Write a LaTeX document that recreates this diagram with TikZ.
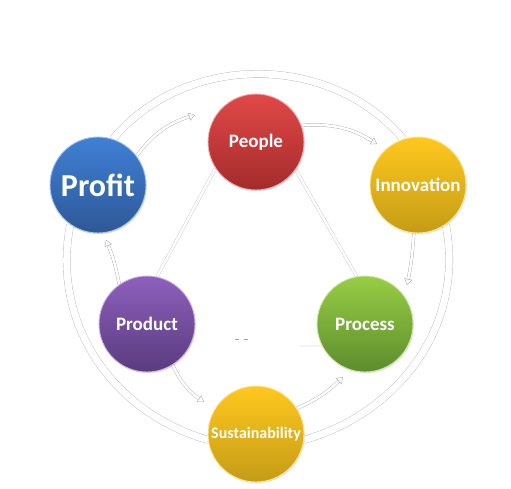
\documentclass[tikz,border=0pt]{standalone}
\usepackage{fontspec}
\setmainfont{Carlito}
\usetikzlibrary{arrows.meta,shadows,backgrounds}
\definecolor{redT}{HTML}{E24848}\definecolor{redB}{HTML}{A32B2B}
\definecolor{yelT}{HTML}{FFC81E}\definecolor{yelB}{HTML}{C49C16}
\definecolor{bluT}{HTML}{3F80D6}\definecolor{bluB}{HTML}{2E5896}
\definecolor{purT}{HTML}{8D60BD}\definecolor{purB}{HTML}{5A3B7E}
\definecolor{grnT}{HTML}{98CE44}\definecolor{grnB}{HTML}{5C8C2E}
\begin{document}
\begin{tikzpicture}[x=1pt,y=1pt,
  ball/.style 2 args={circle, minimum size=96pt, inner sep=0pt,
    top color=#1, bottom color=#2, draw=white!55!#1, line width=0.9pt,
    text=white, font=\bfseries\fontsize{19}{19}\selectfont,
    drop shadow={opacity=0.25, shadow xshift=0.8pt, shadow yshift=-1.2pt}},
  ring/.style={double=white, double distance=7pt, draw=black!30, line width=0.35pt},
  inner/.style={double=white, double distance=2.5pt, draw=black!28, line width=0.3pt},
  flow/.style={double=white, double distance=2.5pt, draw=black!35, line width=0.35pt,
    -{Triangle[open,length=6pt,width=8pt]}},
  faint/.style={draw=black!35, line width=0.4pt}
]
\useasboundingbox (0,0) rectangle (511,488);
% nodes
\node[ball={redT}{redB}] (people) at (256,346) {People};
\node[ball={yelT}{yelB}] (innovation) at (418,303) {Innovation};
\node[ball={bluT}{bluB}, font=\bfseries\fontsize{32}{32}\selectfont] (profit) at (98,303) {Profit};
\node[ball={purT}{purB}] (product) at (147,164) {Product};
\node[ball={grnT}{grnB}] (process) at (365,164) {Process};
\node[ball={yelT}{yelB}, font=\bfseries\fontsize{16}{16}\selectfont] (sust) at (256,54) {Sustainability};
\coordinate (hl) at (300,142);
\coordinate (d1) at (235,149);
\coordinate (d2) at (253,149);
\coordinate (a1) at (195,373);
\coordinate (a2) at (377,344);
\coordinate (a3) at (407,203);
\coordinate (a4) at (343,111);
\coordinate (a5) at (204,86);
\coordinate (a6) at (106,248);
\begin{pgfonlayer}{background}
% outer rings
\draw[ring] (profit.72) to[out=50,in=130] (innovation.108);
\draw[ring] (profit.235) to[out=259,in=164] (sust.187);
\draw[ring] (innovation.305) to[out=281,in=16] (sust.353);
% inner lines
\draw[inner] (people.213) -- (product.78);
\draw[inner] (people.325) -- (process.100);
\draw[faint] (hl) -- (process.207);
\draw[faint, dash pattern=on 4pt off 5pt] (d1) -- (d2);
% flow arrows
\draw[flow] (profit.37) to[bend left=18] (a1);
\draw[flow] (people.20) to[bend left=18] (a2);
\draw[flow] (innovation.265) to[bend left=4] (a3);
\draw[flow] (sust.32) to[bend right=10] (a4);
\draw[flow] (product.302) to[bend right=15] (a5);
\draw[flow] (product.125) to[bend right=6] (a6);
\end{pgfonlayer}
\end{tikzpicture}
\end{document}
